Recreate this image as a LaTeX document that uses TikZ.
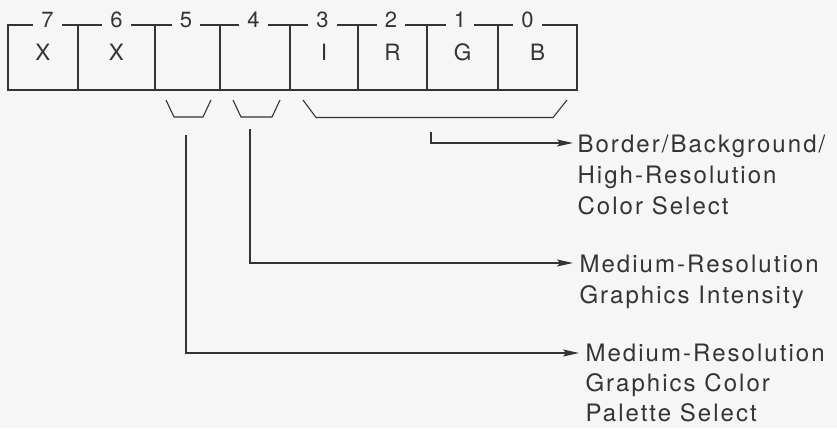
\documentclass[tikz,border=0pt]{standalone}
\usepackage{fontspec}
\setmainfont{TeX Gyre Heros}
\newfontfamily\notefont{TeX Gyre Heros}[LetterSpace=8.5]
\usetikzlibrary{arrows.meta,positioning}

\definecolor{paper}{RGB}{246,246,246}
\definecolor{ink}{RGB}{52,52,52}

\begin{document}
\begin{tikzpicture}[x=1pt,y=-1pt,line width=1.1pt,color=ink,>={Stealth[length=16pt,width=7pt,inset=3pt]},
    cell/.style={draw,outer sep=0pt,inner sep=0pt,minimum height=65pt,text height=16pt,text depth=10pt,font=\fontsize{22.5}{22.5}\selectfont},
    bitno/.style={fill=paper,inner xsep=8pt,inner ysep=0pt,anchor=base,font=\fontsize{22}{22}\selectfont},
    note/.style={anchor=north west,align=left,inner sep=0pt,font=\notefont\fontsize{24}{31}\selectfont}]
    \fill[paper] (0,0) rectangle (837,428);
    \useasboundingbox (0,0) rectangle (837,428);

    % the register, bit 7 on the left
    \node[cell,minimum width=70pt] (b7) at (43,57.5) {X};
    \node[cell,minimum width=77pt,right=0pt of b7] (b6) {X};
    \node[cell,minimum width=65pt,right=0pt of b6] (b5) {};
    \node[cell,minimum width=70pt,right=0pt of b5] (b4) {};
    \node[cell,minimum width=68pt,right=0pt of b4] (b3) {I};
    \node[cell,minimum width=69pt,right=0pt of b3] (b2) {R};
    \node[cell,minimum width=71pt,right=0pt of b2] (b1) {G};
    \node[cell,minimum width=79pt,right=0pt of b1] (b0) {B};

    % bit numbers sit in the top edge
    \node[bitno] (n7) at ([xshift=4.5pt,yshift=-2.5pt]b7.north) {7};
    \node[bitno] (n6) at ([yshift=-2.5pt]b6.north) {6};
    \node[bitno] (n5) at ([xshift=-1.5pt,yshift=-2.5pt]b5.north) {5};
    \node[bitno] (n4) at ([xshift=-1.5pt,yshift=-2.5pt]b4.north) {4};
    \node[bitno] (n3) at ([xshift=-1.5pt,yshift=-2.5pt]b3.north) {3};
    \node[bitno] (n2) at ([xshift=-1.5pt,yshift=-2.5pt]b2.north) {2};
    \node[bitno] (n1) at ([xshift=-2.5pt,yshift=-2.5pt]b1.north) {1};
    \node[bitno] (n0) at ([xshift=-10pt,yshift=-2.5pt]b0.north) {0};

    % brackets under the fields
    \draw (166,100) -- (174,117) -- (203,117) -- (211,100);
    \draw (233,100) -- (241,117) -- (272,117) -- (280,100);
    \draw (303,100) -- (316,117.5) -- (553,117.5) -- (567,100);

    \coordinate (l5) at (186,135);
    \coordinate (l4) at (250,129);
    \coordinate (l30) at (431,132);
    \coordinate (t5) at (579,353);
    \coordinate (t4) at (573,263);
    \coordinate (t30) at (573,143);

    \node[note] (bord) at ([xshift=4pt,yshift=9pt]t30) {Border/Background/\\High-Resolution\\Color Select};
    \node[note] (inten) at ([xshift=6pt,yshift=9pt]t4) {Medium-Resolution\\Graphics Intensity};
    \node[note,font=\notefont\fontsize{24}{30}\selectfont] (pal) at ([xshift=6pt,yshift=9.5pt]t5) {Medium-Resolution\\Graphics Color\\Palette Select};

    \draw[->] (l30) |- (t30);
    \draw[->] (l4) |- (t4);
    \draw[->] (l5) |- (t5);
\end{tikzpicture}
\end{document}
